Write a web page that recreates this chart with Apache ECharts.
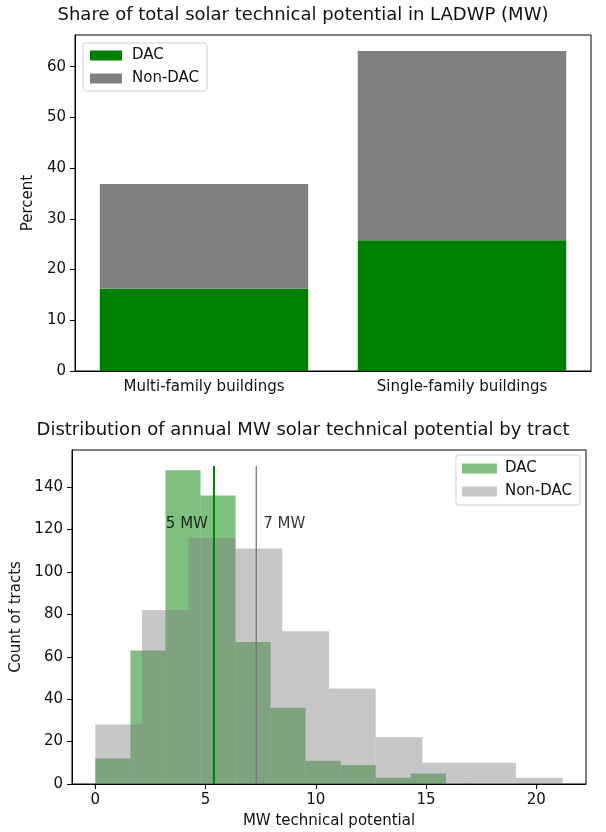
<!DOCTYPE html>
<html>
<head>
<meta charset="utf-8">
<script src="https://cdn.jsdelivr.net/npm/echarts@6/dist/echarts.min.js"></script>
<style>
html,body{margin:0;padding:0;background:#fff;}
#chart{width:606px;height:832px;}
</style>
</head>
<body>
<div id="chart"></div>
<script>
// ---- Data: top chart (stacked share bars) ----
const categories = ['Multi-family buildings', 'Single-family buildings'];
const dacShare = [16.2, 25.8];
const nonDacShare = [20.7, 37.3];
const shareTicks = [0, 10, 20, 30, 40, 50, 60];

// ---- Data: bottom chart (histograms) ----
const dacBinEdges = [0, 1.59, 3.18, 4.77, 6.36, 7.95, 9.54, 11.13, 12.72, 14.31, 15.9];
const dacCounts = [12, 63, 148, 136, 67, 36, 11, 9, 3, 5];
const nonDacBinEdges = [0, 2.12, 4.24, 6.36, 8.48, 10.6, 12.72, 14.84, 16.96, 19.08, 21.2];
const nonDacCounts = [28, 82, 116, 111, 72, 45, 22, 10, 10, 3];
const countTicks = [0, 20, 40, 60, 80, 100, 120, 140];
const mwTicks = [0, 5, 10, 15, 20];
const meanValues = [5.38, 7.30];
const meanLabels = ['5 MW', '7 MW'];
const meanLineTop = 150;
const meanLabelY = 122.5;

const FONT = 'DejaVu Sans';
const DAC_BAR = '#008000';
const NON_BAR = '#808080';
const DAC_HIST = 'rgba(0,128,0,0.5)';
const NON_HIST = 'rgba(128,128,128,0.45)';

function bins(edges, counts) {
  return counts.map((c, i) => [edges[i], edges[i + 1], c]);
}

function histItem(params, api) {
  const p0 = api.coord([api.value(0), 0]);
  const p1 = api.coord([api.value(1), api.value(2)]);
  return {
    type: 'rect',
    shape: { x: p0[0], y: p1[1], width: p1[0] - p0[0], height: p0[1] - p1[1] },
    style: { fill: api.visual('color') }
  };
}

const axisLineStyle = { onZero: false, lineStyle: { color: '#000', width: 1 } };
const tickStyle = { length: 5, lineStyle: { color: '#000', width: 1 } };
const labelStyle = { color: '#111', fontFamily: FONT, fontSize: 15 };
const nameStyle = { color: '#111', fontFamily: FONT, fontSize: 15 };

const chart = echarts.init(document.getElementById('chart'), null, { renderer: 'canvas' });

chart.setOption({
  backgroundColor: '#fff',
  animation: false,
  textStyle: { fontFamily: FONT },
  title: [
    {
      text: 'Share of total solar technical potential in LADWP (MW)',
      left: 'center', top: 6, padding: [0, 0, 0, 60],
      textStyle: { fontFamily: FONT, fontSize: 18, fontWeight: 'normal', color: '#111' }
    },
    {
      text: 'Distribution of annual MW solar technical potential by tract',
      left: 'center', top: 421, padding: [0, 0, 0, 52],
      textStyle: { fontFamily: FONT, fontSize: 18, fontWeight: 'normal', color: '#111' }
    }
  ],
  legend: [
    {
      left: 83, top: 43, orient: 'vertical',
      padding: [5, 8, 5, 7], itemGap: 8, itemWidth: 32, itemHeight: 10,
      backgroundColor: 'rgba(255,255,255,0.8)', borderColor: '#d0d0d0', borderWidth: 1, borderRadius: 3,
      textStyle: { fontFamily: FONT, fontSize: 15, color: '#111', padding: [0, 0, 0, 5] },
      selectedMode: false,
      data: [
        { name: 'DAC', icon: 'rect', itemStyle: { color: DAC_BAR } },
        { name: 'Non-DAC', icon: 'rect', itemStyle: { color: NON_BAR } }
      ]
    },
    {
      right: 26, top: 455, orient: 'vertical',
      padding: [6, 8, 6, 6], itemGap: 8, itemWidth: 35, itemHeight: 10,
      backgroundColor: 'rgba(255,255,255,0.8)', borderColor: '#d0d0d0', borderWidth: 1, borderRadius: 3,
      textStyle: { fontFamily: FONT, fontSize: 15, color: '#111', padding: [0, 0, 0, 3] },
      selectedMode: false,
      data: [
        { name: 'DAC', icon: 'rect', itemStyle: { color: DAC_HIST } },
        { name: 'Non-DAC', icon: 'rect', itemStyle: { color: NON_HIST } }
      ]
    }
  ],
  grid: [
    { left: 75, top: 35, width: 516, height: 336, show: true, borderColor: '#000', borderWidth: 1, backgroundColor: 'transparent' },
    { left: 72, top: 450, width: 514, height: 334, show: true, borderColor: '#000', borderWidth: 1, backgroundColor: 'transparent' }
  ],
  xAxis: [
    {
      type: 'category', gridIndex: 0, data: categories, boundaryGap: true,
      axisLine: axisLineStyle,
      axisTick: Object.assign({ alignWithLabel: true }, tickStyle),
      axisLabel: Object.assign({ margin: 9 }, labelStyle),
      splitLine: { show: false }
    },
    {
      type: 'value', gridIndex: 1, min: -1.06, max: 22.26,
      name: 'MW technical potential', nameLocation: 'middle', nameGap: 30, nameTextStyle: nameStyle,
      axisLine: axisLineStyle,
      axisTick: Object.assign({ customValues: mwTicks }, tickStyle),
      axisLabel: Object.assign({ margin: 9, customValues: mwTicks }, labelStyle),
      splitLine: { show: false }
    }
  ],
  yAxis: [
    {
      type: 'value', gridIndex: 0, min: 0, max: 66.26,
      name: 'Percent', nameLocation: 'middle', nameGap: 29, nameTextStyle: nameStyle,
      axisLine: Object.assign({ show: true }, axisLineStyle),
      axisTick: Object.assign({ show: true, customValues: shareTicks }, tickStyle),
      axisLabel: Object.assign({ margin: 9, customValues: shareTicks }, labelStyle),
      splitLine: { show: false }
    },
    {
      type: 'value', gridIndex: 1, min: 0, max: 157.5,
      name: 'Count of tracts', nameLocation: 'middle', nameGap: 40, nameTextStyle: nameStyle,
      axisLine: Object.assign({ show: true }, axisLineStyle),
      axisTick: Object.assign({ show: true, customValues: countTicks }, tickStyle),
      axisLabel: Object.assign({ margin: 9, customValues: countTicks }, labelStyle),
      splitLine: { show: false }
    }
  ],
  series: [
    {
      name: 'DAC', type: 'bar', xAxisIndex: 0, yAxisIndex: 0, stack: 'share',
      data: dacShare, barWidth: '80.8%', itemStyle: { color: DAC_BAR }
    },
    {
      name: 'Non-DAC', type: 'bar', xAxisIndex: 0, yAxisIndex: 0, stack: 'share',
      data: nonDacShare, barWidth: '80.8%', itemStyle: { color: NON_BAR }
    },
    {
      name: 'DAC', type: 'custom', xAxisIndex: 1, yAxisIndex: 1,
      data: bins(dacBinEdges, dacCounts), encode: { x: [0, 1], y: 2 },
      renderItem: histItem, itemStyle: { color: DAC_HIST }
    },
    {
      name: 'Non-DAC', type: 'custom', xAxisIndex: 1, yAxisIndex: 1,
      data: bins(nonDacBinEdges, nonDacCounts), encode: { x: [0, 1], y: 2 },
      renderItem: histItem, itemStyle: { color: NON_HIST }
    },
    {
      type: 'line', xAxisIndex: 1, yAxisIndex: 1, symbol: 'none', z: 5,
      data: [[meanValues[0], 0], [meanValues[0], meanLineTop]],
      lineStyle: { color: '#008000', width: 2 }
    },
    {
      type: 'line', xAxisIndex: 1, yAxisIndex: 1, symbol: 'none', z: 5,
      data: [[meanValues[1], 0], [meanValues[1], meanLineTop]],
      lineStyle: { color: '#777', width: 1.3 }
    },
    {
      type: 'scatter', xAxisIndex: 1, yAxisIndex: 1, symbolSize: 0, z: 6,
      data: [
        { value: [meanValues[0], meanLabelY], label: { show: true, formatter: meanLabels[0], position: 'left', distance: 6, color: '#000' } },
        { value: [meanValues[1], meanLabelY], label: { show: true, formatter: meanLabels[1], position: 'right', distance: 7, color: '#000' } }
      ],
      label: { fontFamily: FONT, fontSize: 15, color: '#000' }
    }
  ]
});
</script>
</body>
</html>
